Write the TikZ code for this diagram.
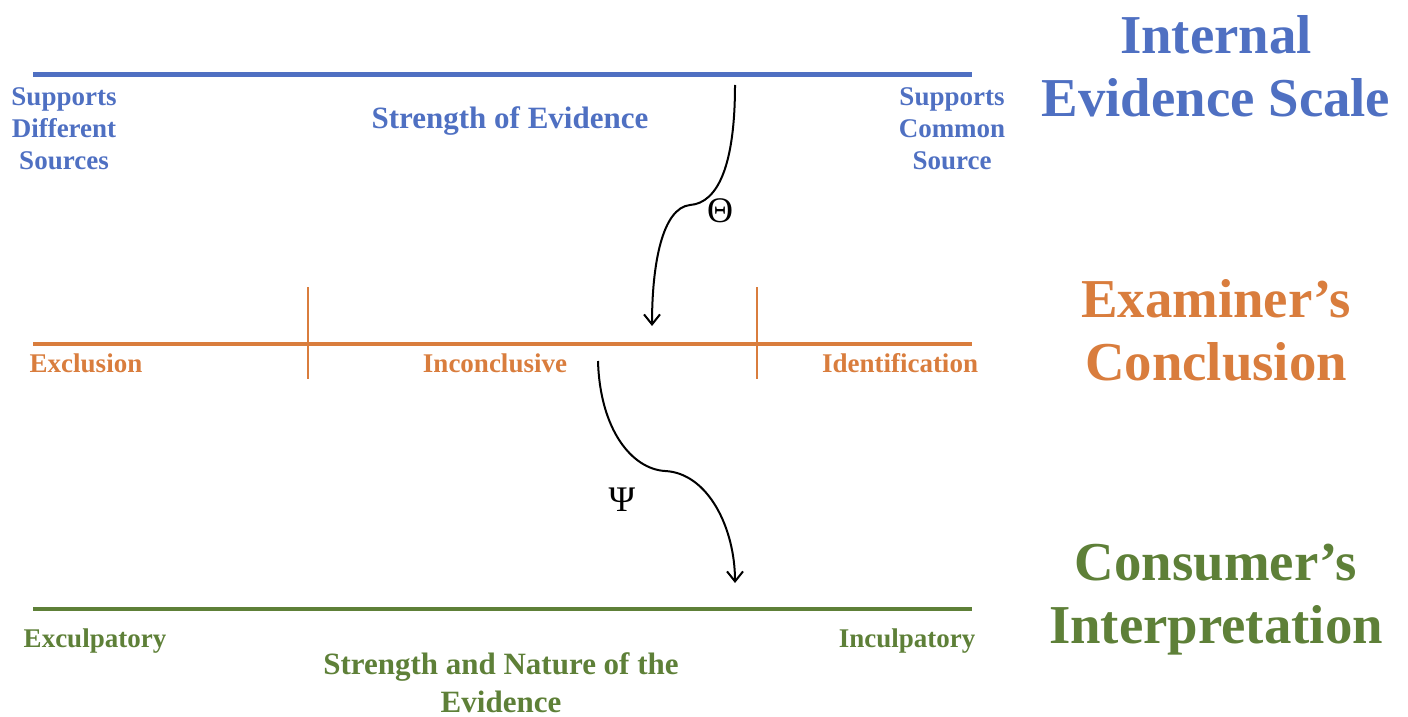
\documentclass[tikz,border=0pt]{standalone}
\usepackage{fontspec}
\setmainfont{Liberation Serif}
\usetikzlibrary{arrows.meta}
\definecolor{scaleblue}{HTML}{4F70C2}
\definecolor{examorange}{HTML}{D97D3D}
\definecolor{consgreen}{HTML}{5E8038}
\begin{document}
\begin{tikzpicture}[x=0.5pt,y=-0.5pt,
  lbl/.style={font=\bfseries\fontsize{13.5}{16}\selectfont, align=center, inner sep=0pt},
  midlbl/.style={font=\bfseries\fontsize{15.5}{19}\selectfont, align=center, inner sep=0pt},
  title/.style={font=\bfseries\fontsize{27.4}{31.5}\selectfont, align=center, inner sep=0pt},
  greek/.style={font=\fontsize{18}{18}\selectfont, inner sep=0pt},
  flow/.style={line width=1pt, -{Straight Barb[length=5pt,width=8pt,line width=1pt]}}]
\useasboundingbox (0,0) rectangle (1408,717);

% internal evidence scale
\draw[scaleblue, line width=2.5pt] (33,75) -- (972,75);
\node[lbl, text=scaleblue] (diff) at (64,129) {Supports\\Different\\Sources};
\node[midlbl, text=scaleblue] (soe) at (510,121) {Strength of Evidence};
\node[lbl, text=scaleblue] (common) at (952,129) {Supports\\Common\\Source};
\node[title, text=scaleblue] (ies) at (1216,66) {Internal\\Evidence Scale};

% examiner's conclusion
\draw[examorange, line width=2pt] (33,344) -- (972,344);
\draw[examorange, line width=0.8pt] (308,287) -- (308,379);
\draw[examorange, line width=0.8pt] (757,287) -- (757,379);
\node[lbl, text=examorange] (excl) at (86,363) {Exclusion};
\node[lbl, text=examorange] (inc) at (495,363) {Inconclusive};
\node[lbl, text=examorange] (ident) at (900,363) {Identification};
\node[title, text=examorange] (ec) at (1216,330) {Examiner’s\\Conclusion};

% consumer's interpretation
\draw[consgreen, line width=2pt] (33,609) -- (972,609);
\node[lbl, text=consgreen] (exc) at (95,641) {Exculpatory};
\node[lbl, text=consgreen] (incul) at (907,641) {Inculpatory};
\node[midlbl, text=consgreen] (sne) at (501,683) {Strength and Nature of the\\Evidence};
\node[title, text=consgreen] (ci) at (1216,600) {Consumer’s\\Interpretation};

% mapping arrows
\coordinate (thetaS) at (735,85);
\coordinate (thetaM) at (690,205);
\coordinate (thetaE) at (652,326);
\coordinate (psiS) at (598,361);
\coordinate (psiM) at (665,471);
\coordinate (psiE) at (735,583);
\draw[flow] (thetaS) .. controls (735,165) and (718,203) .. (thetaM)
  .. controls (662,208) and (652,265) .. (thetaE);
\draw[flow] (psiS) .. controls (600,430) and (632,469) .. (psiM)
  .. controls (708,473) and (735,528) .. (psiE);
\node[greek] (theta) at (720,211) {Θ};
\node[greek] (psi) at (622,500) {Ψ};
\end{tikzpicture}
\end{document}
